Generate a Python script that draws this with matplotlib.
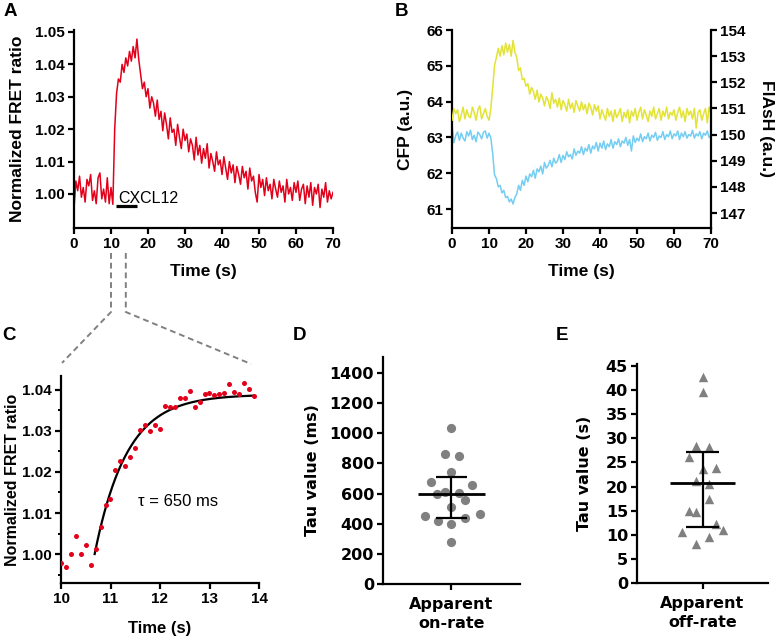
import numpy as np
import matplotlib
matplotlib.use("Agg")
import matplotlib.pyplot as plt
from matplotlib.lines import Line2D
from matplotlib.ticker import MultipleLocator

plt.rcParams["font.family"] = ["Liberation Sans", "DejaVu Sans"]
plt.rcParams["font.weight"] = "bold"
plt.rcParams["axes.labelweight"] = "bold"

# ---- panel A: normalized FRET ratio trace (sampled every 0.5 s)
time_a = np.arange(0, 70.5, 0.5)
fret_a = [
    0.9955, 1.0040, 1.0010, 1.0055, 0.9990, 1.0020, 0.9975, 1.0045, 1.0025, 1.0060,
    0.9980, 1.0010, 0.9970, 1.0050, 1.0065, 0.9985, 1.0015, 0.9975, 1.0050, 0.9970,
    1.0020, 0.9968, 1.0200, 1.0310, 1.0355, 1.0345, 1.0400, 1.0375, 1.0420, 1.0395,
    1.0440, 1.0410, 1.0455, 1.0420, 1.0478, 1.0415, 1.0370, 1.0325, 1.0345, 1.0300,
    1.0325, 1.0265, 1.0300, 1.0280, 1.0240, 1.0290, 1.0230, 1.0255, 1.0195, 1.0250,
    1.0215, 1.0170, 1.0235, 1.0190, 1.0200, 1.0150, 1.0215, 1.0175, 1.0140, 1.0200,
    1.0165, 1.0185, 1.0130, 1.0170, 1.0150, 1.0105, 1.0175, 1.0120, 1.0150, 1.0095,
    1.0140, 1.0110, 1.0155, 1.0080, 1.0125, 1.0100, 1.0070, 1.0130, 1.0090, 1.0105,
    1.0060, 1.0115, 1.0080, 1.0045, 1.0100, 1.0065, 1.0090, 1.0035, 1.0085, 1.0060,
    1.0030, 1.0085, 1.0050, 1.0070, 1.0015, 1.0080, 1.0040, 1.0055, 1.0005, 0.9975,
    1.0060, 1.0020, 1.0045, 0.9995, 1.0050, 1.0010, 1.0030, 0.9985, 1.0045, 1.0015,
    0.9990, 1.0040, 1.0005, 1.0025, 0.9975, 1.0045, 1.0000, 1.0020, 0.9980, 1.0035,
    1.0005, 1.0040, 0.9980, 1.0015, 1.0030, 0.9970, 1.0025, 0.9990, 1.0035, 0.9965,
    1.0020, 1.0000, 1.0030, 0.9958, 1.0015, 0.9990, 1.0035, 0.9975, 1.0010, 0.9985,
    1.0005,
]
stim_start, stim_end = 11.4, 16.9

# ---- panel B: CFP (left axis) and FlAsH (right axis)
time_b = np.arange(0, 70.5, 0.5)
cfp = [
    63.35, 62.85, 63.05, 63.15, 62.92, 63.12, 62.98, 62.90, 63.16, 63.04,
    63.20, 62.94, 63.06, 62.88, 63.15, 63.08, 62.96, 63.14, 63.18, 62.98,
    63.12, 62.98, 62.55, 61.95, 61.85, 61.62, 61.66, 61.45, 61.52, 61.32,
    61.35, 61.20, 61.28, 61.14, 61.32, 61.42, 61.66, 61.52, 61.80, 61.66,
    61.92, 61.76, 61.98, 61.90, 62.08, 61.86, 62.12, 62.04, 62.20, 61.98,
    62.30, 62.14, 62.22, 62.36, 62.18, 62.42, 62.28, 62.34, 62.52, 62.30,
    62.50, 62.38, 62.60, 62.46, 62.52, 62.40, 62.68, 62.50, 62.62, 62.56,
    62.74, 62.52, 62.70, 62.62, 62.80, 62.56, 62.76, 62.68, 62.86, 62.62,
    62.84, 62.70, 62.90, 62.66, 62.82, 62.74, 62.94, 62.70, 62.88, 62.80,
    62.96, 62.74, 62.90, 62.84, 63.00, 62.78, 62.94, 62.62, 63.04, 62.86,
    62.98, 62.90, 63.10, 62.88, 63.02, 62.96, 63.12, 62.90, 63.06, 63.00,
    63.14, 62.92, 63.04, 63.00, 63.16, 62.94, 63.08, 63.02, 63.18, 62.96,
    63.10, 63.04, 63.18, 62.94, 63.12, 63.02, 63.16, 62.98, 63.08, 63.04,
    63.20, 62.98, 63.10, 63.04, 63.16, 62.96, 63.12, 63.06, 63.18, 63.00,
    63.06,
]
flash = [
    150.55, 151.00, 150.80, 150.95, 150.50, 150.75, 151.05, 150.60, 150.95, 150.70,
    150.65, 151.05, 150.85, 150.55, 150.95, 151.10, 150.60, 150.80, 151.00, 150.70,
    150.55, 151.00, 151.80, 152.65, 152.95, 153.30, 153.00, 153.40, 153.05, 153.50,
    153.15, 153.45, 153.00, 153.60, 153.15, 152.95, 152.45, 152.55, 152.10, 152.15,
    151.85, 151.95, 151.55, 151.80, 151.65, 151.35, 151.70, 151.25, 151.55, 151.40,
    151.10, 151.45, 151.30, 151.00, 151.60, 151.20, 151.35, 151.05, 151.40, 150.95,
    151.30, 151.15, 150.90, 151.35, 151.00, 151.20, 150.85, 151.30, 151.10, 150.90,
    151.25, 150.95, 151.15, 150.80, 151.20, 151.05, 150.75, 151.15, 150.90, 151.10,
    150.60, 150.95, 150.75, 150.55, 151.00, 150.70, 150.90, 150.50, 150.95, 150.65,
    150.80, 151.00, 150.50, 150.85, 150.65, 150.95, 150.45, 150.90, 150.70, 151.00,
    150.55, 150.85, 151.05, 150.60, 150.95, 150.75, 150.50, 150.90, 150.70, 151.05,
    150.60, 150.80, 151.00, 150.55, 150.90, 150.70, 151.05, 150.60, 150.85, 150.75,
    150.95, 150.55, 150.85, 151.05, 150.65, 150.90, 150.50, 151.00, 150.75, 150.90,
    150.60, 151.00, 150.25, 150.85, 150.95, 150.55, 150.80, 151.00, 150.45, 151.05,
    150.80,
]

# ---- panel C: zoom on the rise, with mono-exponential fit
time_c = np.arange(10.0, 13.95, 0.1)
fret_c = [
    0.9979, 0.9969, 1.0000, 1.0043, 1.0000, 1.0021, 0.9972, 1.0012, 1.0067, 1.0119,
    1.0133, 1.0204, 1.0227, 1.0215, 1.0237, 1.0259, 1.0303, 1.0315, 1.0301, 1.0315,
    1.0305, 1.0362, 1.0358, 1.0359, 1.0380, 1.0381, 1.0398, 1.0358, 1.0370, 1.0390,
    1.0392, 1.0388, 1.0389, 1.0393, 1.0414, 1.0396, 1.0389, 1.0417, 1.0402, 1.0385,
]
fit_start, fit_end = 10.68, 13.9
fit_base, fit_amp, tau_s = 1.000, 0.0389, 0.65

# ---- panels D and E: tau values
on_tau = [1035, 863, 848, 746, 678, 656, 600, 612, 605, 554, 508, 450, 462, 417, 435, 395, 280]
on_jit = [0, -0.10, 0.11, 0, -0.30, 0.30, -0.21, -0.10, 0.11, 0.20, 0, -0.39, 0.41, -0.20, 0.20, 0, 0]
on_center, on_low, on_high = 594, 441, 713

off_tau = [42.7, 39.6, 28.4, 28.1, 26.1, 23.6, 23.9, 21.2, 20.6, 17.4, 15.0, 14.7, 12.2, 10.5, 10.9, 9.6, 8.1]
off_jit = [0, 0, -0.10, 0.10, -0.20, 0, 0.21, -0.10, 0.10, 0.10, -0.20, -0.10, 0.20, -0.31, 0.31, 0.10, -0.10]
off_center, off_low, off_high = 20.7, 11.6, 27.1

RED = "#e2001a"
YELLOW = "#e3e336"
CYAN = "#74cdf2"
GREY = "#808080"
W, H = 777, 638


def box(l, t, r, b):
    return [l / W, 1 - b / H, (r - l) / W, (b - t) / H]


def style(ax, right=False, size=11):
    ax.spines["top"].set_visible(False)
    if not right:
        ax.spines["right"].set_visible(False)
    for s in ax.spines.values():
        s.set_linewidth(1.6)
    ax.tick_params(direction="out", length=4.5, width=1.6, labelsize=size, pad=2)


fig = plt.figure(figsize=(W / 100, H / 100), dpi=100)

# A
ax_a = fig.add_axes(box(74, 30, 333, 228))
ax_a.plot(time_a, fret_a, color=RED, lw=1.1)
ax_a.set_xlim(0, 70)
ax_a.set_ylim(0.9895, 1.0506)
ax_a.set_xticks(range(0, 71, 10))
ax_a.set_yticks([1.00, 1.01, 1.02, 1.03, 1.04, 1.05])
ax_a.set_yticklabels(["1.00", "1.01", "1.02", "1.03", "1.04", "1.05"])
ax_a.plot([stim_start, stim_end], [0.9963, 0.9963], color="black", lw=2.3, solid_capstyle="butt")
ax_a.text(11.9, 0.99725, "CXCL12", fontsize=11.5, fontweight="normal", va="baseline", ha="left")
ax_a.set_xlabel("Time (s)", fontsize=12.5)
ax_a.set_ylabel("Normalized FRET ratio", fontsize=12.5)
ax_a.xaxis.set_label_coords(0.5, -0.182)
ax_a.yaxis.set_label_coords(-0.19, 0.5)
style(ax_a)

# B
ax_b = fig.add_axes(box(452, 30, 711, 228))
ax_b2 = ax_b.twinx()
ax_b.plot(time_b, cfp, color=CYAN, lw=1.1)
ax_b2.plot(time_b, flash, color=YELLOW, lw=1.1)
ax_b.set_xlim(0, 70)
ax_b.set_ylim(60.47, 66.0)
ax_b2.set_ylim(146.43, 154.0)
ax_b.set_xticks(range(0, 71, 10))
ax_b.set_yticks(range(61, 67))
ax_b2.set_yticks(range(147, 155))
ax_b.set_xlabel("Time (s)", fontsize=12.5)
ax_b.set_ylabel("CFP (a.u.)", fontsize=12.5)
ax_b2.set_ylabel("FlAsH (a.u.)", fontsize=12.5, rotation=270)
ax_b.xaxis.set_label_coords(0.5, -0.182)
ax_b.yaxis.set_label_coords(-0.15, 0.5)
ax_b2.yaxis.set_label_coords(1.245, 0.5)
style(ax_b)
ax_b.spines["right"].set_visible(False)
style(ax_b2, right=True)
ax_b2.spines["left"].set_visible(False)
ax_b2.spines["bottom"].set_visible(False)

# C
ax_c = fig.add_axes(box(61, 376, 259, 583))
ax_c.scatter(time_c, fret_c, s=13, color=RED, zorder=3, linewidths=0)
t_fit = np.linspace(fit_start, fit_end, 200)
ax_c.plot(t_fit, fit_base + fit_amp * (1 - np.exp(-(t_fit - fit_start) / tau_s)),
          color="black", lw=1.6, zorder=2)
ax_c.set_xlim(10, 14)
ax_c.set_ylim(0.99293, 1.04341)
ax_c.set_xticks([10, 11, 12, 13, 14])
ax_c.set_yticks([1.00, 1.01, 1.02, 1.03, 1.04])
ax_c.set_yticklabels(["1.00", "1.01", "1.02", "1.03", "1.04"])
ax_c.yaxis.set_minor_locator(MultipleLocator(0.005))
ax_c.text(11.56, 1.0129, "τ = 650 ms", fontsize=12, fontweight="normal", va="center", ha="left")
ax_c.set_xlabel("Time (s)", fontsize=12)
ax_c.set_ylabel("Normalized FRET ratio", fontsize=11.5)
ax_c.xaxis.set_label_coords(0.5, -0.184)
ax_c.yaxis.set_label_coords(-0.207, 0.5)
style(ax_c)
ax_c.tick_params(which="minor", length=2.5, width=1.4)

WIDE = "DejaVu Sans"


def scatter_panel(ax, vals, jit, center, low, high, marker, ylim, yticks, ylabel, xlabel, mw, cw, ms):
    ax.scatter(jit, vals, s=ms, marker=marker, color=GREY, linewidths=0, zorder=2)
    ax.hlines(center, -mw, mw, color="black", lw=2.0, zorder=3)
    ax.vlines(0, low, high, color="black", lw=1.6, zorder=3)
    ax.hlines([low, high], -cw, cw, color="black", lw=1.6, zorder=3)
    ax.set_xlim(-1, 1)
    ax.set_ylim(*ylim)
    ax.set_yticks(yticks)
    ax.set_xticks([0])
    style(ax, size=11.5)
    ax.tick_params(axis="x", pad=5)
    ax.set_xticklabels([xlabel], fontsize=11.5, linespacing=1.3, fontfamily=WIDE)
    for lbl in ax.get_yticklabels():
        lbl.set_fontfamily(WIDE)
    ax.set_ylabel(ylabel, fontsize=11.5, fontfamily=WIDE)


# D
ax_d = fig.add_axes(box(383, 357, 520, 584))
scatter_panel(ax_d, on_tau, on_jit, on_center, on_low, on_high, "o",
              (0, 1506), range(0, 1401, 200), "Tau value (ms)", "Apparent\non-rate",
              0.49, 0.23, 44)
ax_d.yaxis.set_label_coords(-0.46, 0.5)

# E
ax_e = fig.add_axes(box(637, 364, 768, 583))
scatter_panel(ax_e, off_tau, off_jit, off_center, off_low, off_high, "^",
              (0, 45.4), range(0, 46, 5), "Tau value (s)", "Apparent\noff-rate",
              0.50, 0.25, 46)
ax_e.yaxis.set_label_coords(-0.344, 0.5)

# dashed connectors from A (10-14 s) to panel C
inv = fig.transFigure.inverted()
for t, corner in [(10, (0.005, 1.063)), (14, (0.96, 1.058))]:
    x0 = inv.transform(ax_a.transData.transform((t, 1.0)))[0]
    cx, cy = inv.transform(ax_c.transAxes.transform(corner))
    fig.add_artist(Line2D([x0, x0, cx], [1 - 253 / H, 1 - 312 / H, cy], transform=fig.transFigure,
                          color=GREY, lw=1.4, ls=(0, (3, 2))))

# panel letters
for letter, px, py in [("A", 10, 12), ("B", 402, 12), ("C", 9, 335), ("D", 300, 335), ("E", 562, 335)]:
    fig.text(px / W, 1 - py / H, letter, fontsize=13.5, fontweight="bold", ha="center", va="center")

fig.savefig("out.png", dpi=100)
